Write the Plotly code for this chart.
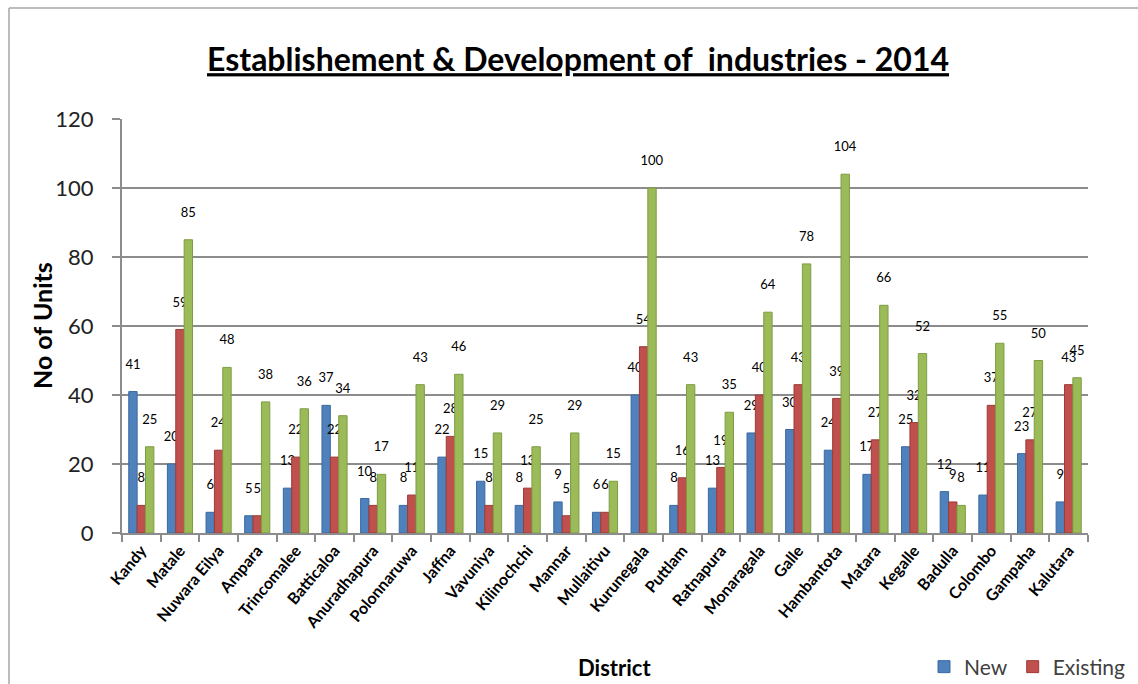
import plotly.graph_objects as go

districts = ["Kandy", "Matale", "Nuwara Eilya", "Ampara", "Trincomalee", "Batticaloa",
             "Anuradhapura", "Polonnaruwa", "Jaffna", "Vavuniya", "Kilinochchi", "Mannar",
             "Mullaitivu", "Kurunegala", "Puttlam", "Ratnapura", "Monaragala", "Galle",
             "Hambantota", "Matara", "Kegalle", "Badulla", "Colombo", "Gampaha", "Kalutara"]
new_units = [41, 20, 6, 5, 13, 37, 10, 8, 22, 15, 8, 9, 6, 40, 8, 13, 29, 30, 24, 17, 25, 12, 11, 23, 9]
existing_units = [8, 59, 24, 5, 22, 22, 8, 11, 28, 8, 13, 5, 6, 54, 16, 19, 40, 43, 39, 27, 32, 9, 37, 27, 43]
third_units = [25, 85, 48, 38, 36, 34, 17, 43, 46, 29, 25, 29, 15, 100, 43, 35, 64, 78, 104, 66, 52, 8, 55, 50, 45]
y_ticks = [0, 20, 40, 60, 80, 100, 120]

FONT = "Lato"
series = [
    ("New", new_units, "#4F81BD", "#3A6A9F", True),
    ("Existing", existing_units, "#C0504D", "#9C3B38", True),
    ("Total", third_units, "#9BBB59", "#7E9C43", False),
]

fig = go.Figure()
for name, vals, col, edge, show in series:
    fig.add_trace(go.Bar(
        x=districts, y=vals, name=name, showlegend=show,
        marker=dict(color=col, line=dict(color=edge, width=1)),
        text=vals, texttemplate="%{text}<br> ", textposition="outside",
        cliponaxis=False, constraintext="none", textangle=0,
        textfont=dict(family=FONT, size=13, color="#000000"),
    ))

L, R, T, B = 122, 50, 119, 151
W, H = 1138, 684
pw, ph = W - L - R, H - T - B

def px(x):
    return (x - L) / pw

def py(y):
    return (H - B - y) / ph

fig.update_layout(
    width=W, height=H,
    margin=dict(l=L, r=R, t=T, b=B, autoexpand=False),
    paper_bgcolor="white", plot_bgcolor="white",
    barmode="group", bargap=0.35, bargroupgap=0.0,
    font=dict(family=FONT, color="#000000"),
    title=dict(text="<b><u>Establishement &amp; Development of&nbsp; industries - 2014</u></b>",
               x=578 / W, xanchor="center", y=1 - 60 / H, yanchor="middle",
               font=dict(family=FONT, size=32, color="#000000")),
    legend=dict(orientation="h", x=px(924), xanchor="left", y=py(667), yanchor="middle",
                font=dict(family=FONT, size=21, color="#404040"), bgcolor="rgba(0,0,0,0)",
                itemwidth=30, traceorder="normal"),
    xaxis=dict(showline=True, linecolor="#8C8C8C", linewidth=2, ticks="outside",
               tickson="boundaries", ticklen=7, tickcolor="#8C8C8C", tickwidth=2,
               tickangle=-50, automargin=False,
               tickfont=dict(family=FONT, size=16, color="#000000", weight="bold"),
               showgrid=False),
    yaxis=dict(range=[0, 120], tickvals=y_ticks, showline=True, linecolor="#8C8C8C", linewidth=2,
               ticks="outside", ticklen=8, tickcolor="#8C8C8C", tickwidth=2, automargin=False,
               ticklabelstandoff=14,
               showgrid=True, gridcolor="#8C8C8C", gridwidth=2, zeroline=False,
               tickfont=dict(family=FONT, size=22, color="#222222")),
    annotations=[
        dict(text="<b>No of Units</b>", x=px(42), y=py(326), xref="paper", yref="paper",
             textangle=-90, showarrow=False, xanchor="center", yanchor="middle",
             font=dict(family=FONT, size=25, color="#000000")),
        dict(text="<b>District</b>", x=px(614), y=py(667), xref="paper", yref="paper",
             showarrow=False, xanchor="center", yanchor="middle",
             font=dict(family=FONT, size=22, color="#000000")),
    ],
    shapes=[
        dict(type="line", xref="paper", yref="paper", x0=px(9), x1=px(1138), y0=py(8), y1=py(8),
             line=dict(color="#A6A6A6", width=1.5)),
        dict(type="line", xref="paper", yref="paper", x0=px(9), x1=px(9), y0=py(8), y1=py(684),
             line=dict(color="#A6A6A6", width=1.5)),
    ],
)

fig.write_html("out.html", config={"displayModeBar": False})
